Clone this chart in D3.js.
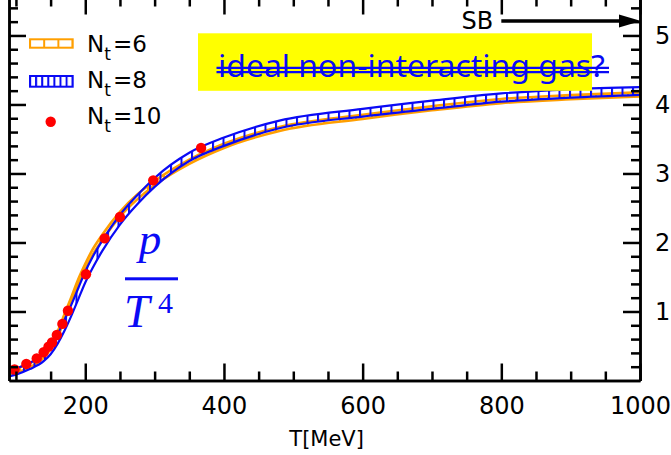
<!DOCTYPE html>
<html>
<head>
<meta charset="utf-8">
<script src="https://cdn.jsdelivr.net/npm/d3@7"></script>
<style>
  body { margin: 0; background: #fff; }
  svg { display: block; }
</style>
</head>
<body>
<div id="chart"></div>
<script>
// temperatures (MeV) at which the Nt=6 and Nt=8 bands were read
const temps  = [90, 100, 120, 140, 150, 160, 170, 180, 190, 200, 210, 225, 250, 275, 300, 350, 400, 480, 600, 700, 800, 900, 1000];
const nt6Mid = [0.10, 0.14, 0.22, 0.36, 0.49, 0.67, 0.92, 1.17, 1.43, 1.65, 1.85, 2.08, 2.41, 2.66, 2.86, 3.17, 3.40, 3.645, 3.82, 3.945, 4.05, 4.105, 4.145];
const nt6Err = [0.03, 0.03, 0.03, 0.03, 0.035, 0.04, 0.04, 0.04, 0.04, 0.04, 0.04, 0.04, 0.035, 0.035, 0.03, 0.03, 0.03, 0.03, 0.03, 0.03, 0.03, 0.03, 0.03];
const nt8Mid = [0.10, 0.13, 0.21, 0.33, 0.44, 0.60, 0.80, 1.02, 1.26, 1.50, 1.70, 1.96, 2.33, 2.62, 2.87, 3.24, 3.46, 3.71, 3.88, 3.995, 4.10, 4.16, 4.195];
const nt8Err = [0.04, 0.045, 0.045, 0.05, 0.06, 0.07, 0.08, 0.08, 0.08, 0.08, 0.08, 0.075, 0.07, 0.065, 0.065, 0.06, 0.06, 0.055, 0.055, 0.06, 0.06, 0.06, 0.055];
// Nt=10 points
const nt10T = [98, 115, 130, 140, 147, 152, 159, 167, 175, 201, 228, 250, 298, 367];
const nt10P = [0.16, 0.24, 0.32, 0.41, 0.49, 0.55, 0.66, 0.82, 1.01, 1.54, 2.06, 2.37, 2.90, 3.37];
// Stefan-Boltzmann limit and where its arrow starts
const sbValue = 5.209;
const sbFrom = 800;
const xTicks = [200, 400, 600, 800, 1000];
const yTicks = [1, 2, 3, 4, 5];
const legendNt = ["6", "8", "10"];

const W = 671, H = 455;
const ORANGE = "#ff9f00", BLUE = "#0a0af5", RED = "#ff0000";

const svg = d3.select("#chart").append("svg")
  .attr("width", W).attr("height", H)
  .style("font-family", "'DejaVu Sans', sans-serif");

const x = d3.scaleLinear().domain([90, 1000]).range([9, 640]);
const y = d3.scaleLinear().domain([0, 5.55]).range([380.5, -2.5]);

const defs = svg.append("defs");
defs.append("clipPath").attr("id", "plotClip")
  .append("rect")
  .attr("x", x(90)).attr("y", y(5.55))
  .attr("width", x(1000) - x(90)).attr("height", y(0) - y(5.55));

function hatch(id, color, step, x0) {
  const p = defs.append("pattern").attr("id", id)
    .attr("patternUnits", "userSpaceOnUse")
    .attr("x", x0).attr("y", 0)
    .attr("width", step).attr("height", 10);
  p.append("line")
    .attr("x1", 1).attr("x2", 1).attr("y1", -1).attr("y2", 11)
    .attr("stroke", color).attr("stroke-width", 2);
}
hatch("hatch6", ORANGE, 16, 3);
hatch("hatch8", BLUE, 10.5, 2);
hatch("legHatch6", ORANGE, 14.2, 29);
hatch("legHatch8", BLUE, 6.1, 29);

function band(mid, err) {
  return temps.map((t, i) => ({ t: t, lo: mid[i] - err[i], hi: mid[i] + err[i] }));
}

const area = d3.area().curve(d3.curveMonotoneX)
  .x(d => x(d.t)).y0(d => y(d.lo)).y1(d => y(d.hi));
const lineLo = d3.line().curve(d3.curveMonotoneX).x(d => x(d.t)).y(d => y(d.lo));
const lineHi = d3.line().curve(d3.curveMonotoneX).x(d => x(d.t)).y(d => y(d.hi));

const plot = svg.append("g").attr("clip-path", "url(#plotClip)");

function drawBand(data, color, patternId, width) {
  plot.append("path").attr("d", area(data))
    .attr("fill", "url(#" + patternId + ")").attr("stroke", "none");
  [lineLo, lineHi].forEach(function(l) {
    plot.append("path").attr("d", l(data))
      .attr("fill", "none").attr("stroke", color).attr("stroke-width", width);
  });
}
drawBand(band(nt6Mid, nt6Err), ORANGE, "hatch6", 2.6);
drawBand(band(nt8Mid, nt8Err), BLUE, "hatch8", 2.2);

plot.selectAll("circle.nt10")
  .data(nt10T.map((t, i) => ({ t: t, p: nt10P[i] })))
  .enter().append("circle")
  .attr("class", "nt10")
  .attr("cx", d => x(d.t)).attr("cy", d => y(d.p))
  .attr("r", 5.2).attr("fill", RED);

// axes: major and minor ticks on all four sides, pointing inward
const xMinor = d3.range(100, 1000, 50).filter(v => v % 200 !== 0);
const yMinor = d3.range(1, 28).map(i => +(i * 0.2).toFixed(1)).filter(v => v % 1 !== 0);

function styleAxis(g) {
  g.selectAll("path, line").attr("stroke", "#000").attr("stroke-width", 2.5);
  g.selectAll("text").attr("fill", "#000").style("font-size", "24px")
    .style("font-family", "'DejaVu Sans', sans-serif");
}

function addAxis(maker, scale, pos, transform, withLabels, pad) {
  const major = maker(scale).tickValues(pos === "x" ? xTicks : yTicks)
    .tickSizeInner(-17).tickSizeOuter(0).tickPadding(pad)
    .tickFormat(withLabels ? d3.format("d") : "");
  const minor = maker(scale).tickValues(pos === "x" ? xMinor : yMinor)
    .tickSizeInner(-9).tickSizeOuter(0).tickFormat("");
  const g1 = svg.append("g").attr("transform", transform).call(major);
  const g2 = svg.append("g").attr("transform", transform).call(minor);
  styleAxis(g1); styleAxis(g2);
  return g1;
}

addAxis(d3.axisBottom, x, "x", "translate(0," + y(0) + ")", true, 16);
addAxis(d3.axisTop, x, "x", "translate(0," + y(5.55) + ")", false, 3);
addAxis(d3.axisLeft, y, "y", "translate(" + x(90) + ",0)", false, 3);
const gRight = addAxis(d3.axisRight, y, "y", "translate(" + x(1000) + ",0)", true, 15);
gRight.selectAll("text").attr("text-anchor", "start");

svg.append("text")
  .attr("x", (x(200) + x(1000)) / 2 - 36).attr("y", 446)
  .attr("text-anchor", "middle")
  .style("font-size", "21px")
  .text("T[MeV]");

// Stefan-Boltzmann arrow
const sbY = y(sbValue);
svg.append("line")
  .attr("x1", x(sbFrom)).attr("x2", x(1000) - 18)
  .attr("y1", sbY).attr("y2", sbY)
  .attr("stroke", "#000").attr("stroke-width", 3.5);
svg.append("path")
  .attr("d", d3.line()([[x(1000) - 21, sbY - 6.5], [x(1000) + 1, sbY], [x(1000) - 21, sbY + 6.5]]) + "Z")
  .attr("fill", "#000");
svg.append("text")
  .attr("x", x(sbFrom) - 8).attr("y", sbY + 7.5)
  .attr("text-anchor", "end")
  .style("font-size", "24px")
  .text("SB");

// yellow note with struck-out text
svg.append("rect")
  .attr("x", 198).attr("y", 33.3).attr("width", 394).attr("height", 57.5)
  .attr("fill", "#ffff00");
svg.append("text")
  .attr("x", 218).attr("y", 76.5)
  .attr("textLength", 387).attr("lengthAdjust", "spacingAndGlyphs")
  .style("font-family", "'Noto Sans', 'Open Sans', sans-serif")
  .style("font-size", "31px")
  .attr("fill", BLUE)
  .text("ideal non-interacting gas?");
[67.8, 72.2].forEach(function(yy) {
  svg.append("line")
    .attr("x1", 216.5).attr("x2", 609).attr("y1", yy).attr("y2", yy)
    .attr("stroke", BLUE).attr("stroke-width", 2.2);
});

// p / T^4 label
const frac = svg.append("g").attr("fill", BLUE)
  .style("font-family", "'Liberation Serif', 'DejaVu Serif', serif");
frac.append("text")
  .attr("x", 150).attr("y", 253.5)
  .attr("text-anchor", "middle")
  .style("font-size", "45px").style("font-style", "italic")
  .text("p");
frac.append("rect")
  .attr("x", 125).attr("y", 277.3).attr("width", 53).attr("height", 3);
frac.append("text")
  .attr("x", 124).attr("y", 327)
  .style("font-size", "46px").style("font-style", "italic")
  .text("T");
frac.append("text")
  .attr("x", 158).attr("y", 313)
  .style("font-size", "30px")
  .text("4");

// legend
const legend = svg.append("g");
legend.append("rect")
  .attr("x", 30).attr("y", 39.3).attr("width", 42.7).attr("height", 8.4)
  .attr("fill", "url(#legHatch6)").attr("stroke", ORANGE).attr("stroke-width", 2);
legend.append("rect")
  .attr("x", 30).attr("y", 76).attr("width", 42.7).attr("height", 10.7)
  .attr("fill", "url(#legHatch8)").attr("stroke", BLUE).attr("stroke-width", 2);
legend.append("circle")
  .attr("cx", 50.7).attr("cy", 121.7).attr("r", 5.2).attr("fill", RED);

legendNt.forEach(function(n, i) {
  const t = legend.append("text")
    .attr("x", 87).attr("y", 51.7 + i * 36.2)
    .style("font-size", "23px");
  t.append("tspan").text("N");
  t.append("tspan").attr("dy", 8).style("font-size", "17px").text("t");
  t.append("tspan").attr("dy", -8).attr("dx", 2).text("=" + n);
});
</script>
</body>
</html>
